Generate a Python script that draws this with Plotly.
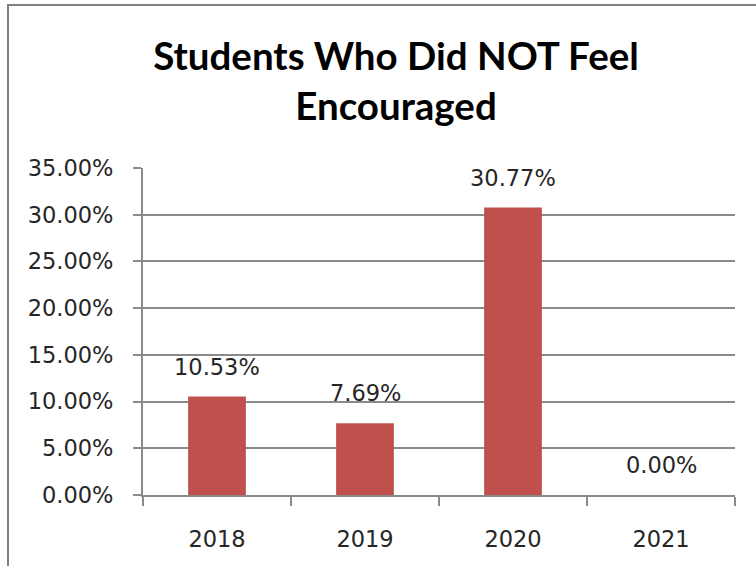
import plotly.graph_objects as go

categories = ["2018", "2019", "2020", "2021"]
values = [0.1053, 0.0769, 0.3077, 0.0]
label_texts = ["10.53%", "7.69%", "30.77%", "0.00%"]
y_ticks = [0, 0.05, 0.10, 0.15, 0.20, 0.25, 0.30, 0.35]
y_tick_labels = ["0.00%", "5.00%", "10.00%", "15.00%", "20.00%", "25.00%", "30.00%", "35.00%"]
title_text = "Students Who Did NOT Feel<br>Encouraged"

W, H = 756, 566
ML, MR, MT, MB = 143, 21, 168, 71
PW, PH = W - ML - MR, H - MT - MB

bar_color = "#C0504D"
text_color = "#262626"
grid_color = "#8A8A8A"
tick_font = dict(family="DejaVu Sans", size=22.5, color=text_color)

fig = go.Figure()
fig.add_trace(go.Bar(
    x=categories, y=values, marker=dict(color=bar_color, line=dict(width=0)),
    width=0.39, hoverinfo="skip",
))

for i, (v, t) in enumerate(zip(values, label_texts)):
    fig.add_annotation(x=i, y=v, xref="x", yref="y", text=t, showarrow=False,
                       yanchor="middle", xanchor="center",
                       yshift=30, font=tick_font)

# frame around the chart
def px_x(p):
    return (p - ML) / PW

def px_y(p):
    return (H - MB - p) / PH

fig.add_shape(type="rect", xref="paper", yref="paper",
              x0=px_x(8), x1=px_x(780), y0=px_y(600), y1=px_y(5),
              line=dict(color="#808080", width=2), layer="below")

fig.update_layout(
    width=W, height=H,
    margin=dict(l=ML, r=MR, t=MT, b=MB, pad=0),
    paper_bgcolor="white", plot_bgcolor="white",
    showlegend=False,
    title=dict(text=title_text, x=(396 - ML) / PW, xref="paper", xanchor="center",
               y=1 - 70 / H, yref="container", yanchor="middle",
               font=dict(family="Lato", size=38.5, color="#000000", weight="bold")),
    xaxis=dict(type="category", tickson="boundaries", ticks="outside", ticklen=9,
               tickcolor=grid_color, tickwidth=2, showgrid=False, showline=True,
               linecolor=grid_color, linewidth=2, tickfont=tick_font,
               ticklabelstandoff=23, range=[-0.5, 3.5]),
    yaxis=dict(range=[0, 0.35], tickvals=y_ticks, ticktext=y_tick_labels,
               ticks="outside", ticklen=8, tickcolor=grid_color, tickwidth=2,
               showgrid=True, gridcolor=grid_color, gridwidth=2,
               showline=True, linecolor=grid_color, linewidth=2,
               tickfont=tick_font, ticklabelstandoff=15, zeroline=False),
)

fig.write_html("out.html", config={"displayModeBar": False},
               post_script="document.body.style.margin='0px';")
